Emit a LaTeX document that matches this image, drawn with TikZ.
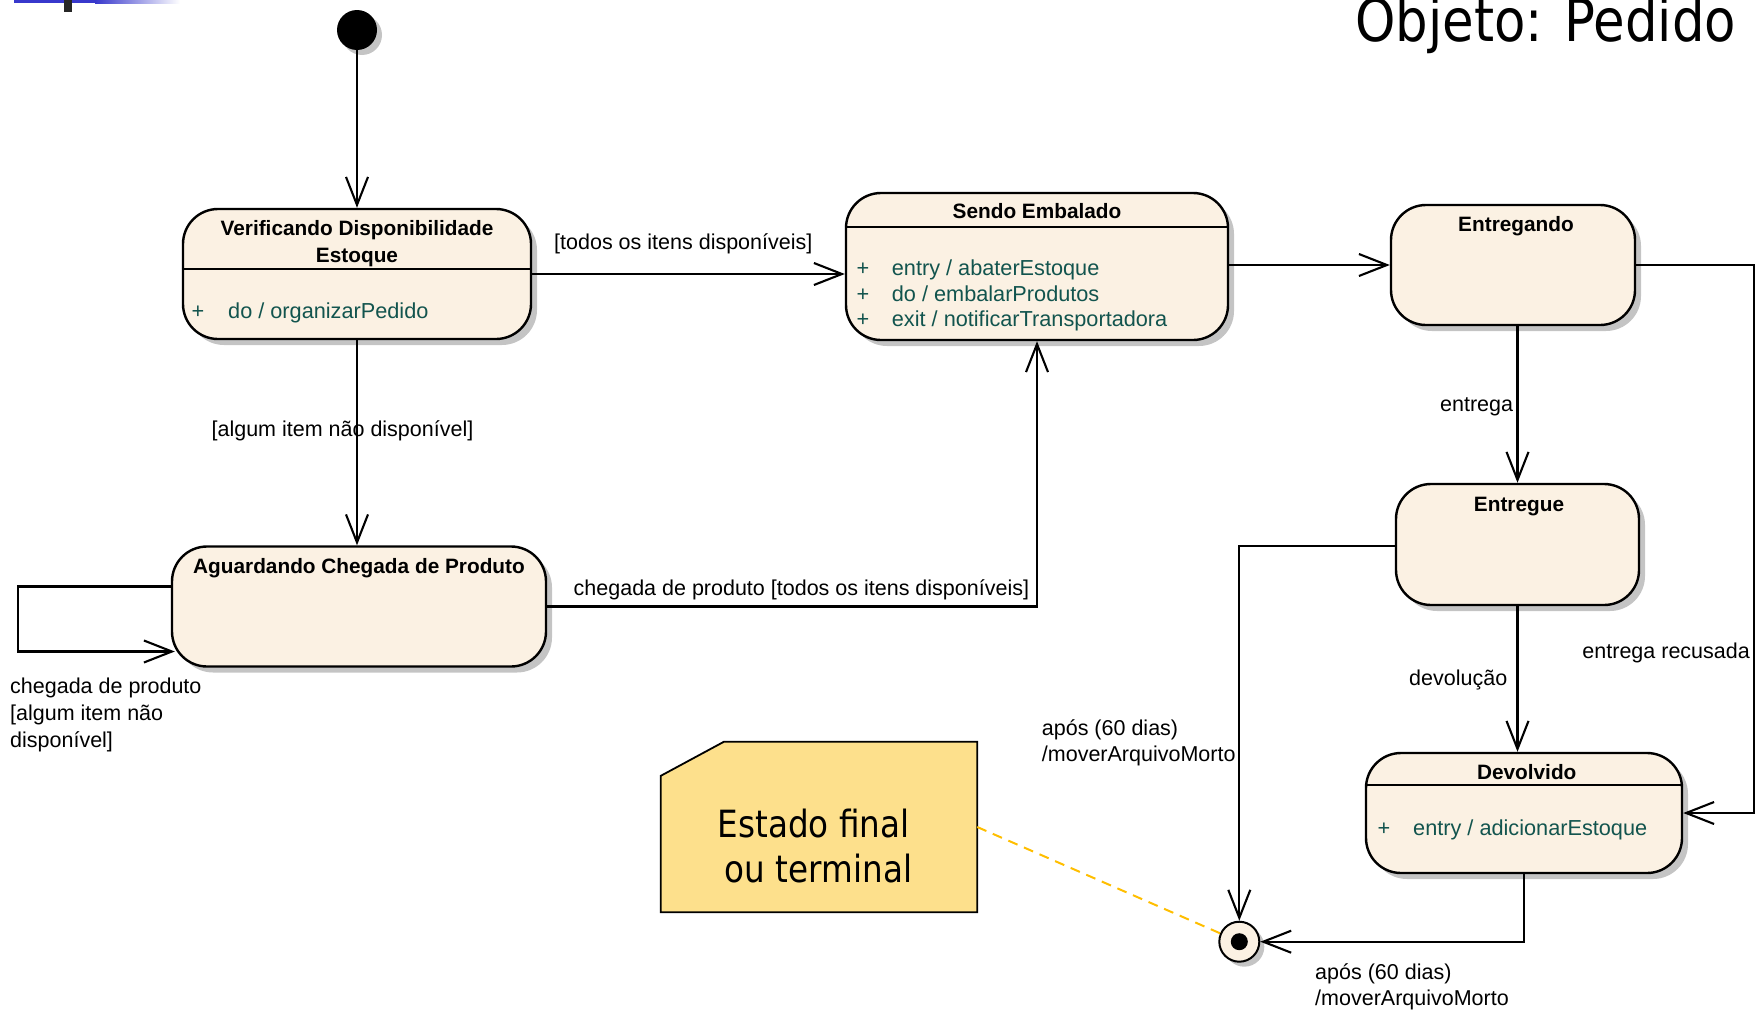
\documentclass[tikz,border=0pt]{standalone}
\usepackage{fontspec}
\setmainfont{Liberation Sans}
\newfontfamily\headfont[FakeStretch=0.87]{DejaVu Sans}
\usetikzlibrary{arrows.meta,shadows,calc}

\definecolor{statefill}{RGB}{251,241,227}
\definecolor{acttext}{RGB}{18,84,78}
\definecolor{notefill}{RGB}{253,224,140}
\definecolor{noteline}{RGB}{255,190,0}
\definecolor{shadowgray}{RGB}{196,196,196}
\definecolor{barblue}{RGB}{56,56,204}

\tikzset{
  statebox/.style={draw=black, line width=2.4pt, fill=statefill, rounded corners=35pt, inner sep=0pt,
    drop shadow={shadow xshift=6pt, shadow yshift=-6pt, fill=shadowgray, opacity=1}},
  trans/.style={line width=2.1pt, -{Straight Barb[length=28pt, width=22pt]}},
  sep/.style={line width=2pt},
  sname/.style={font=\bfseries\fontsize{20.8}{25}\selectfont, anchor=base, inner sep=0pt},
  act/.style={font=\fontsize{21.7}{26}\selectfont, text=acttext, anchor=base west, inner sep=0pt},
  plus/.style={font=\fontsize{21.7}{26}\selectfont, text=acttext, anchor=base, inner sep=0pt},
  lbl/.style={font=\fontsize{21.5}{26}\selectfont, anchor=base west, inner sep=0pt},
  lble/.style={font=\fontsize{21.5}{26}\selectfont, anchor=base east, inner sep=0pt},
  notetext/.style={font=\headfont\fontsize{37.5}{45}\selectfont, anchor=base, inner sep=0pt},
}

\begin{document}
\begin{tikzpicture}[x=1pt,y=-1pt]
\useasboundingbox (0,0) rectangle (1763,1009);
\clip (0,0) rectangle (1763,1009);

% slide header fragment and title
\fill[barblue] (14,0) rectangle (95,3);
\shade[left color=barblue, right color=white] (95,0) rectangle (180,3);
\fill[black!85] (64,0) rectangle (72,12);
\node[font=\headfont\fontsize{59}{60}\selectfont, anchor=base west, inner sep=0pt] (title) at (1355,41) {Objeto: Pedido};

% initial and final pseudo-states
\node[circle, fill=black, minimum size=40pt, inner sep=0pt,
      drop shadow={shadow xshift=5pt, shadow yshift=-5pt, fill=shadowgray, opacity=1}] (ini) at (357,30) {};
\node[circle, draw=black, line width=2pt, fill=statefill, minimum size=40pt, inner sep=0pt,
      drop shadow={shadow xshift=5pt, shadow yshift=-5pt, fill=shadowgray, opacity=1}] (fin) at (1239.3,941.7) {};
\node[circle, fill=black, minimum size=17pt, inner sep=0pt] (findot) at (fin.center) {};

% states
\node[statebox, minimum width=348pt, minimum height=130pt] (s1) at (357,274) {};
\node[statebox, minimum width=382pt, minimum height=147pt] (s2) at (1037,266.5) {};
\node[statebox, minimum width=244pt, minimum height=120pt] (s3) at (1513,265) {};
\node[statebox, minimum width=243pt, minimum height=121pt] (s4) at (1517.5,544.5) {};
\node[statebox, minimum width=316pt, minimum height=120pt] (s5) at (1524,813) {};
\node[statebox, minimum width=374pt, minimum height=120pt] (s6) at (359,606.5) {};

% compartment separators
\draw[sep] (s1.west |- 0,269) -- (s1.east |- 0,269);
\draw[sep] (s2.west |- 0,227) -- (s2.east |- 0,227);
\draw[sep] (s5.west |- 0,785) -- (s5.east |- 0,785);

% state names
\node[sname] (n1a) at (357,235) {Verificando Disponibilidade};
\node[sname] (n1b) at (357,262) {Estoque};
\node[sname] (n2) at (1037,218) {Sendo Embalado};
\node[sname] (n3) at (1516,231.7) {Entregando};
\node[sname] (n4) at (1519,511.7) {Entregue};
\node[sname] (n5) at (1526.7,779) {Devolvido};
\node[sname] (n6) at (359,573.3) {Aguardando Chegada de Produto};

% internal activities
\node[plus] (p1) at (198,318) {+};
\node[act] (a1) at (228,318) {do / organizarPedido};
\node[plus] (p2a) at (863,275) {+};
\node[act] (a2a) at (891.7,275) {entry / abaterEstoque};
\node[plus] (p2b) at (863,301.7) {+};
\node[act] (a2b) at (891.7,301.7) {do / embalarProdutos};
\node[plus] (p2c) at (863,326.7) {+};
\node[act] (a2c) at (891.7,326.7) {exit / notificarTransportadora};
\node[plus] (p5) at (1384,835) {+};
\node[act] (a5) at (1413,835) {entry / adicionarEstoque};

% note
\node[minimum width=316pt, minimum height=170pt, inner sep=0pt] (note) at (819,827) {};
\draw[fill=notefill, line width=1.8pt]
  (note.south west) -- ($(note.north west)+(0,34)$) -- ($(note.north west)+(63,0)$)
  -- (note.north east) -- (note.south east) -- cycle;
\node[notetext] (nt1) at (813.5,837.7) {Estado final};
\node[notetext] (nt2) at (818.5,882.6) {ou terminal};
\draw[noteline, line width=2pt, dash pattern=on 10pt off 7pt] (note.east) -- (fin);

% transitions
\coordinate (rc) at (1754,265);
\draw[trans] (ini) -- (s1.north);
\draw[trans] (s1.east) -- (s1.east -| s2.west);
\draw[trans] (s1.south) -- (s1.south |- s6.north);
\draw[trans] (s6.east) -| (s2.south);
\draw[trans] (s2.east |- s3.west) -- (s3.west);
\draw[trans] (s4.north |- s3.south) -- (s4.north);
\draw[trans] (s4.south) -- (s4.south |- s5.north);
\draw[trans] (s3.east) -- (rc) |- (s5.east);
\draw[trans] ([yshift=-1.5pt]s4.west) -| (fin.north);
\draw[trans] (s5.south) |- (fin.east);
\draw[trans] ([yshift=20pt]s6.west) -- ++(-153,0) -- ++(0,65) -- ([yshift=-45pt,xshift=4pt]s6.west);

% transition labels
\node[lbl] (l1) at (554,249.6) {[todos os itens disponíveis]};
\node[lbl] (l2) at (211.4,436) {[algum item não disponível]};
\node[lbl] (l3) at (573.5,595) {chegada de produto [todos os itens disponíveis]};
\node[lbl] (l4a) at (10,693) {chegada de produto};
\node[lbl] (l4b) at (10,720) {[algum item não};
\node[lbl] (l4c) at (10,747) {disponível]};
\node[lble] (l5) at (1513.3,411.7) {entrega};
\node[lbl] (l6) at (1409,685) {devolução};
\node[lble] (l7) at (1750,658) {entrega recusada};
\node[lbl] (l8a) at (1041.7,735) {após (60 dias)};
\node[lbl] (l8b) at (1041.7,761.7) {/moverArquivoMorto};
\node[lbl] (l9a) at (1315,979) {após (60 dias)};
\node[lbl] (l9b) at (1315,1005) {/moverArquivoMorto};
\end{tikzpicture}
\end{document}
